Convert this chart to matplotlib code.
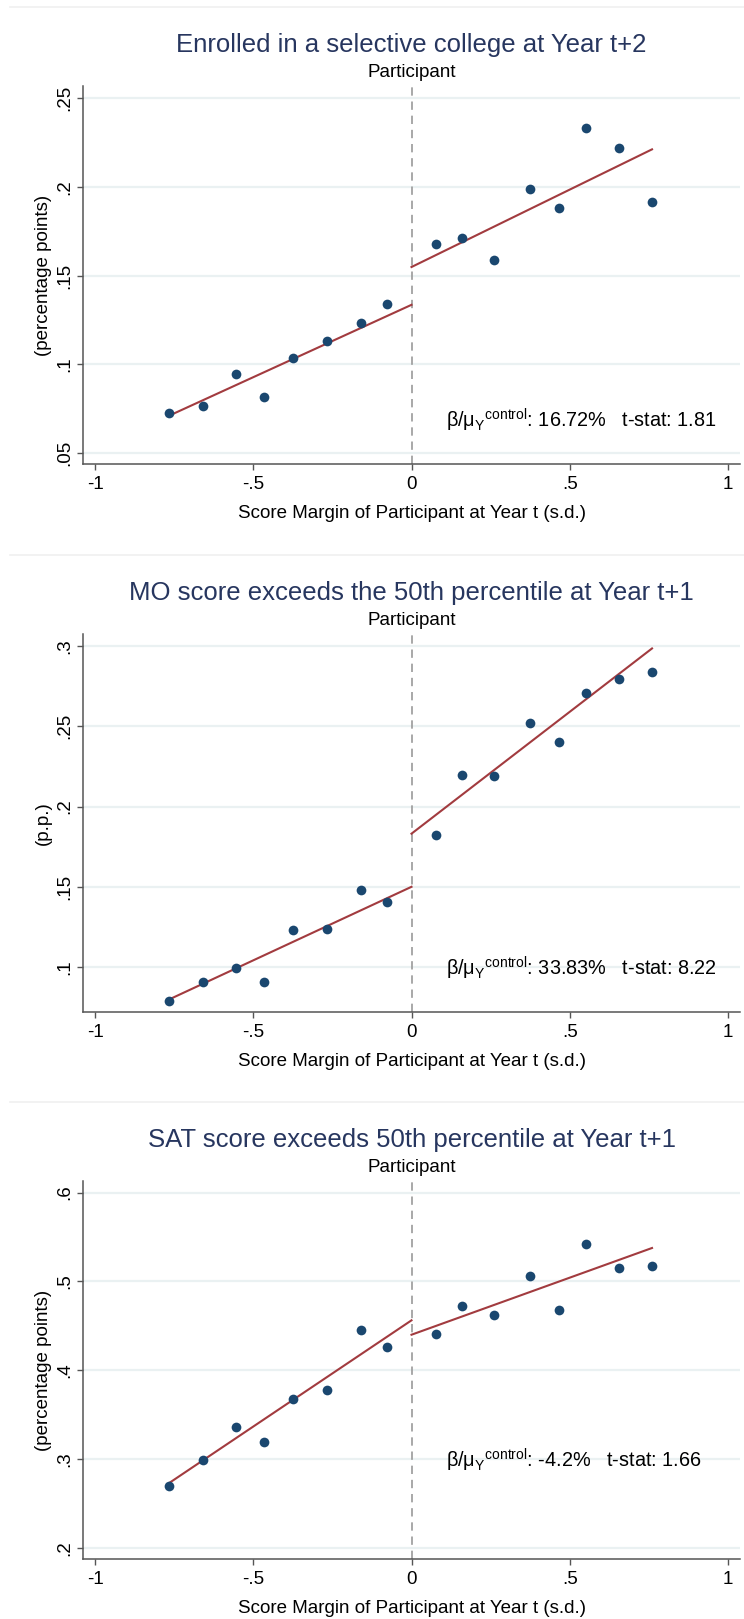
import matplotlib
matplotlib.use("Agg")
import matplotlib.pyplot as plt
from matplotlib.lines import Line2D

plt.rcParams['font.family'] = ['Liberation Sans', 'DejaVu Sans']
plt.rcParams['mathtext.fontset'] = 'custom'
plt.rcParams['mathtext.rm'] = 'Liberation Sans'
plt.rcParams['mathtext.it'] = 'Liberation Sans:italic'
plt.rcParams['mathtext.bf'] = 'Liberation Sans:bold'

# ---------------- data ----------------
x_bins = [-0.765, -0.660, -0.555, -0.467, -0.376, -0.266, -0.159, -0.076,
          0.078, 0.158, 0.262, 0.374, 0.465, 0.552, 0.656, 0.760]

titles = ["Enrolled in a selective college at Year t+2",
          "MO score exceeds the 50th percentile at Year t+1",
          "SAT score exceeds 50th percentile at Year t+1"]
subtitle = "Participant"
xlabel = "Score Margin of Participant at Year t (s.d.)"
ylabels = ["(percentage points)", "(p.p.)", "(percentage points)"]

y_enrolled = [0.0725, 0.0767, 0.0944, 0.0818, 0.1037, 0.1132, 0.1234, 0.1341,
              0.1680, 0.1713, 0.1587, 0.1986, 0.1878, 0.2333, 0.2219, 0.1913]
y_mo = [0.0788, 0.0908, 0.0996, 0.0908, 0.1229, 0.1235, 0.1479, 0.1406,
        0.1823, 0.2199, 0.2190, 0.2519, 0.2402, 0.2707, 0.2793, 0.2840]
y_sat = [0.2698, 0.2992, 0.3364, 0.3190, 0.3682, 0.3783, 0.4450, 0.4264,
         0.4407, 0.4725, 0.4624, 0.5058, 0.4682, 0.5422, 0.5147, 0.5174]

# fitted lines: values at (first bin, 0) on the left and (0, last bin) on the right
fit_left_enrolled = [0.0711, 0.1335]
fit_right_enrolled = [0.1548, 0.2211]
fit_left_mo = [0.0799, 0.1500]
fit_right_mo = [0.1831, 0.2985]
fit_left_sat = [0.2733, 0.4562]
fit_right_sat = [0.4400, 0.5376]

effects = ["16.72%", "33.83%", "-4.2%"]
tstats = ["1.81", "8.22", "1.66"]

x_ticks = [-1, -0.5, 0, 0.5, 1]
x_ticklabels = ["-1", "-.5", "0", ".5", "1"]
y_ticks_enrolled = [0.05, 0.10, 0.15, 0.20, 0.25]
y_ticklabels_enrolled = [".05", ".1", ".15", ".2", ".25"]
y_ticks_mo = [0.10, 0.15, 0.20, 0.25, 0.30]
y_ticklabels_mo = [".1", ".15", ".2", ".25", ".3"]
y_ticks_sat = [0.2, 0.3, 0.4, 0.5, 0.6]
y_ticklabels_sat = [".2", ".3", ".4", ".5", ".6"]

# ---------------- layout (pixels) ----------------
W, H = 744, 1619
fig = plt.figure(figsize=(W / 100, H / 100), dpi=100)
fig.patch.set_facecolor("white")

panels = [
    dict(y=y_enrolled, fl=fit_left_enrolled, fr=fit_right_enrolled,
         yt=y_ticks_enrolled, ytl=y_ticklabels_enrolled,
         top=86, bottom=464, ylim=(0.0438, 0.2568), ann_frac=0.116, sep=7),
    dict(y=y_mo, fl=fit_left_mo, fr=fit_right_mo,
         yt=y_ticks_mo, ytl=y_ticklabels_mo,
         top=634, bottom=1012, ylim=(0.0720, 0.3075), ann_frac=0.116, sep=555),
    dict(y=y_sat, fl=fit_left_sat, fr=fit_right_sat,
         yt=y_ticks_sat, ytl=y_ticklabels_sat,
         top=1181, bottom=1559, ylim=(0.1876, 0.6130), ann_frac=0.262, sep=1102),
]

LEFT, RIGHT = 83, 740
navy = "#1a476f"
maroon = "#a23b3f"
title_col = "#27365f"
axis_col = "#555555"
grid_col = "#eaf1f2"

for i, p in enumerate(panels):
    ax = fig.add_axes([LEFT / W, 1 - p["bottom"] / H,
                       (RIGHT - LEFT) / W, (p["bottom"] - p["top"]) / H])
    ax.set_xlim(-1.038, 1.038)
    ax.set_ylim(*p["ylim"])
    ax.set_yticks(p["yt"])
    ax.set_yticklabels(p["ytl"])
    ax.set_xticks(x_ticks)
    ax.set_xticklabels(x_ticklabels)
    ax.grid(axis="y", color=grid_col, linewidth=1.6, zorder=0)
    ax.set_axisbelow(True)
    for s in ["top", "right"]:
        ax.spines[s].set_visible(False)
    for s in ["left", "bottom"]:
        ax.spines[s].set_color(axis_col)
        ax.spines[s].set_linewidth(1.1)
    ax.tick_params(axis="both", direction="out", length=4.3, width=1.0,
                   color=axis_col, labelsize=13.5, labelcolor="black")
    ax.tick_params(axis="y", labelrotation=90, pad=3)
    ax.tick_params(axis="x", pad=4)
    for lab in ax.get_yticklabels():
        lab.set_va("center")

    ax.axvline(0, color="#9a9a9a", linewidth=1.2, linestyle=(0, (5, 3.5)), zorder=1)

    ax.plot([x_bins[0], 0], p["fl"], color=maroon, linewidth=1.5, zorder=2)
    ax.plot([0, x_bins[-1]], p["fr"], color=maroon, linewidth=1.5, zorder=2)
    ax.plot(x_bins, p["y"], linestyle="none", marker="o", markersize=7,
            color=navy, markeredgewidth=0, zorder=3)

    ax.set_xlabel(xlabel, fontsize=13.5, labelpad=9)
    ax.set_ylabel(ylabels[i], fontsize=13.5, labelpad=3)

    ax.annotate(titles[i], xy=(0.5, 1), xycoords="axes fraction",
                xytext=(0, 29.5), textcoords="offset points",
                ha="center", va="center", fontsize=18.5, color=title_col)
    ax.annotate(subtitle, xy=(0.5, 1), xycoords="axes fraction",
                xytext=(0, 9.5), textcoords="offset points",
                ha="center", va="center", fontsize=13.5, color="black")

    ann = (r"$\mathregular{\beta/\mu_{Y}{}^{control}}$: " + effects[i] +
           "   t-stat: " + tstats[i])
    ax.text(0.5525, p["ann_frac"], ann, transform=ax.transAxes,
            ha="left", va="center", fontsize=14.3, color="black")

    fig.add_artist(Line2D([10 / W, 1], [1 - p["sep"] / H] * 2,
                          transform=fig.transFigure, color="#f0f0f0", linewidth=1.2))

fig.savefig("out.png", dpi=100, facecolor="white")
